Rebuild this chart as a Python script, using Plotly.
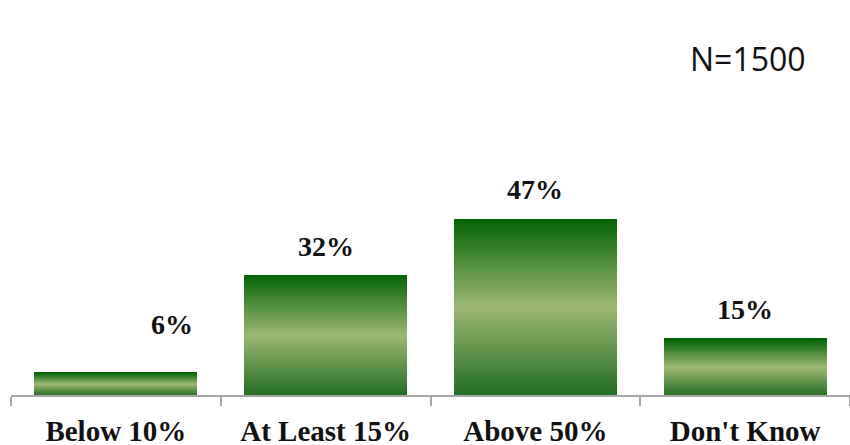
import plotly.graph_objects as go
from plotly.colors import sample_colorscale

# ---------------------------------------------------------
# data
# ---------------------------------------------------------

categories = ["Below 10%", "At Least 15%", "Above 50%", "Don't Know"]
values = [6, 32, 47, 15]
labels = ["6%", "32%", "47%", "15%"]
sample_note = "N=1500"

# ---------------------------------------------------------
# gradient bars: each bar is built from thin stacked slices
# ---------------------------------------------------------

n_slices = 60
gradient = [
    [0.0, "#236f23"],
    [0.5, "#9db872"],
    [1.0, "#026402"],
]
slice_colors = sample_colorscale(
    gradient,
    [(k + 0.5) / n_slices for k in range(n_slices)]
)

fig = go.Figure()

for k in range(n_slices):
    fig.add_trace(
        go.Bar(
            x=categories,
            y=[v / n_slices for v in values],
            marker=dict(color=slice_colors[k], line=dict(width=0)),
            hoverinfo="skip",
            showlegend=False
        )
    )

# data labels (first one sits offset, as in the original)
xshifts = [56, 0, 0, 0]
yshifts = [48, 29, 29, 29]

for cat, val, lab, dx, dy in zip(categories, values, labels, xshifts, yshifts):
    fig.add_annotation(
        x=cat,
        y=val,
        text="<b>" + lab + "</b>",
        showarrow=False,
        xshift=dx,
        yshift=dy,
        yanchor="middle",
        font=dict(family="Liberation Serif", size=28, color="#111111")
    )

fig.add_annotation(
    x=(748 - 11) / 839,
    y=(445 - 50 - 59) / 375,
    xref="paper",
    yref="paper",
    xanchor="center",
    yanchor="middle",
    text=sample_note,
    showarrow=False,
    font=dict(family="Open Sans", size=32, color="#111111")
)

fig.update_layout(
    width=850,
    height=445,
    margin=dict(l=11, r=0, t=20, b=50),
    barmode="stack",
    bargap=0.224,
    plot_bgcolor="white",
    paper_bgcolor="white",
    xaxis=dict(
        showline=True,
        linecolor="#a6a6a6",
        linewidth=2,
        ticks="outside",
        tickson="boundaries",
        ticklen=9,
        tickwidth=2,
        tickcolor="#a6a6a6",
        ticklabelstandoff=9,
        tickfont=dict(family="Liberation Serif", size=29, color="#111111"),
        tickvals=categories,
        ticktext=["<b>" + c + "</b>" for c in categories],
        showgrid=False,
        zeroline=False,
        automargin=False
    ),
    yaxis=dict(
        range=[0, 100],
        visible=False,
        showgrid=False,
        zeroline=False
    )
)

fig.write_html(
    "out.html",
    config={"displayModeBar": False},
    post_script="document.body.style.margin='0';document.body.style.overflow='hidden';"
)
